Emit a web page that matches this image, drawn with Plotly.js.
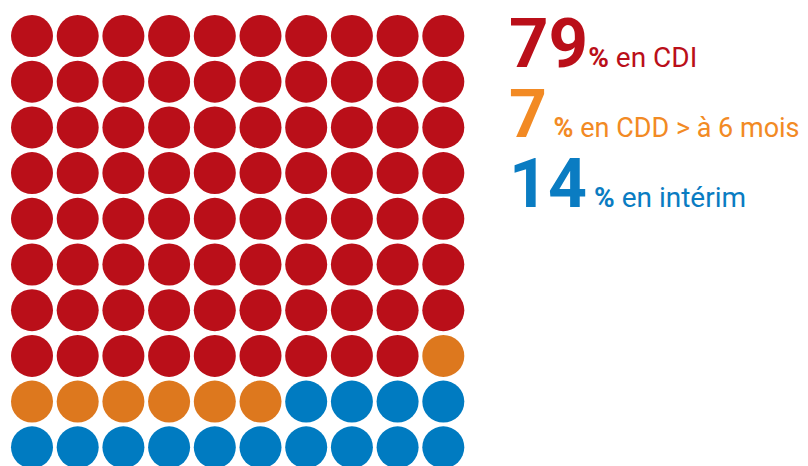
<!DOCTYPE html>
<html>
<head>
<meta charset="utf-8">
<script src="https://cdn.plot.ly/plotly-3.0.1.min.js"></script>
<style>html,body{margin:0;padding:0;background:#fff;}#chart{width:808px;height:466px;}</style>
</head>
<body>
<div id="chart"></div>
<script>
// Data
const categories = ["CDI", "CDD > à 6 mois", "intérim"];
const values = [79, 7, 14];
const labelTexts = ["% en CDI", "% en CDD > à 6 mois", "% en intérim"];
const dotColors = ["#BA0F19", "#DD781E", "#007BC1"];
const textColors = ["#BA0F19", "#F28A24", "#0A7CC2"];
const gridCols = 10;

// Build waffle (row-major from top-left)
const traces = [];
let idx = 0;
categories.forEach((cat, c) => {
  const xs = [], ys = [];
  for (let k = 0; k < values[c]; k++) {
    xs.push(idx % gridCols);
    ys.push(Math.floor(idx / gridCols));
    idx++;
  }
  traces.push({
    type: 'scatter', mode: 'markers', name: cat, x: xs, y: ys,
    marker: {size: 42, color: dotColors[c], line: {width: 0}},
    hoverinfo: 'skip', showlegend: false
  });
});

const W = 808, H = 466, step = 45.7, x0 = 32, y0 = 36;
const bigSizes = [69, 66, 68];
const smallSizes = [28, 27, 28];
const rowBaselines = [72, 141, 212];
const rowX = [507, 507, 507];
const spacer = ["", " ", " "];
const annotations = categories.map((cat, c) => ({
  xref: 'paper', yref: 'paper',
  x: rowX[c] / W, y: 1 - (rowBaselines[c] + 14) / H,
  xanchor: 'left', yanchor: 'bottom', showarrow: false, align: 'left',
  text: '<b><span style="font-size:' + bigSizes[c] + 'px">' + values[c] + '</span></b>' +
        spacer[c] + '<b>%</b>' + labelTexts[c].slice(1),
  font: {family: 'Roboto, "Open Sans", sans-serif', size: smallSizes[c], color: textColors[c]}
}));

const layout = {
  width: W, height: H,
  margin: {l: 0, r: 0, t: 0, b: 0},
  paper_bgcolor: '#ffffff', plot_bgcolor: '#ffffff',
  xaxis: {range: [-x0 / step, (W - x0) / step], visible: false, fixedrange: true},
  yaxis: {range: [(H - y0) / step, -y0 / step], visible: false, fixedrange: true},
  annotations: annotations
};
Plotly.newPlot('chart', traces, layout, {staticPlot: true, displayModeBar: false});
</script>
</body>
</html>
